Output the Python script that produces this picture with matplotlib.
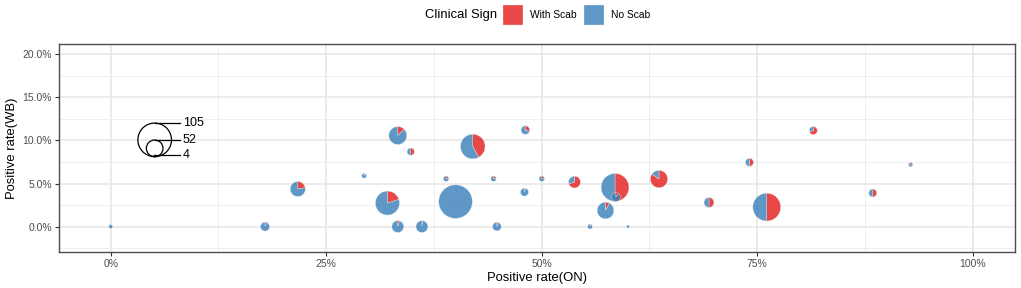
import matplotlib
matplotlib.use("Agg")
import matplotlib.pyplot as plt
from matplotlib.patches import Wedge, Circle, Rectangle
from matplotlib.ticker import FixedLocator, FuncFormatter

plt.rcParams['font.family'] = ['Liberation Sans', 'DejaVu Sans']

# ---- data (percent units) ----
pos_on = [0.0, 17.9, 21.7, 29.4, 32.1, 33.3, 33.3, 34.8, 36.1, 38.9,
          40.0, 42.0, 44.4, 44.8, 48.0, 48.1, 50.0, 53.8, 55.6, 57.4,
          58.5, 58.6, 60.0, 63.6, 69.4, 74.1, 76.1, 81.5, 88.4, 92.8]
pos_wb = [0.0, 0.0, 4.36, 5.9, 2.73, 10.57, 0.0, 8.7, 0.0, 5.56,
          2.9, 9.3, 5.56, 0.0, 4.0, 11.2, 5.56, 5.17, 0.0, 1.87,
          4.55, 3.43, 0.0, 5.52, 2.8, 7.46, 2.26, 11.15, 3.9, 7.19]
n_total = [12, 28, 47, 15, 75, 56, 37, 23, 37, 17,
           105, 77, 17, 27, 25, 27, 17, 37, 15, 52,
           87, 28, 9, 54, 31, 25, 87, 25, 25, 13]
frac_scab = [0.0, 0.05, 0.22, 0.1, 0.2, 0.13, 0.05, 0.5, 0.02, 0.25,
             0.0, 0.42, 0.25, 0.05, 0.05, 0.3, 0.25, 0.7, 0.1, 0.08,
             0.5, 0.1, 0.0, 0.85, 0.5, 0.5, 0.5, 0.7, 0.5, 0.3]
groups = ['With Scab', 'No Scab']
legend_sizes = [105, 52, 4]
x_ticks = [0, 25, 50, 75, 100]
y_ticks = [0, 5, 10, 15, 20]

# ---- style ----
colors = {'With Scab': '#E41A1C', 'No Scab': '#377EB8'}
alpha = 0.8
r_scale = 1.95 / 105.0   # percent units per count

W, H = 1021, 288
fig = plt.figure(figsize=(W / 100, H / 100), dpi=100)
ax = fig.add_axes([59 / W, 1 - 252 / H, (1015 - 59) / W, (252 - 44) / H])
ax.set_xlim(-6.0, 104.9)
ax.set_ylim(-2.95, 21.2)

# grid
ax.xaxis.set_major_locator(FixedLocator(x_ticks))
ax.yaxis.set_major_locator(FixedLocator(y_ticks))
ax.xaxis.set_minor_locator(FixedLocator([12.5, 37.5, 62.5, 87.5]))
ax.yaxis.set_minor_locator(FixedLocator([-2.5, 2.5, 7.5, 12.5, 17.5]))
ax.grid(which='major', color='#E8E8E8', lw=1.2, zorder=0)
ax.grid(which='minor', color='#EBEBEB', lw=0.6, zorder=0)
ax.set_axisbelow(True)
ax.tick_params(which='minor', length=0)
ax.tick_params(which='major', length=3, width=0.8, color='#333333',
               labelsize=7.5, labelcolor='#4D4D4D', pad=2)
ax.xaxis.set_major_formatter(FuncFormatter(lambda v, p: f"{v:.0f}%"))
ax.yaxis.set_major_formatter(FuncFormatter(lambda v, p: f"{v:.1f}%"))
for s in ax.spines.values():
    s.set_color('#4D4D4D')
    s.set_linewidth(1.0)

ax.set_xlabel('Positive rate(ON)', fontsize=9.4, labelpad=2)
ax.set_ylabel('Positive rate(WB)', fontsize=9.4, labelpad=3)

# pies
for x, y, n, f in zip(pos_on, pos_wb, n_total, frac_scab):
    r = n * r_scale
    start = 90.0
    fr = [f, 1 - f]
    for g, part in zip(groups, fr):
        if part <= 0:
            continue
        end = start - 360.0 * part
        w = Wedge((x, y), r, end, start, facecolor=colors[g], alpha=alpha,
                  edgecolor='#f0f0f0', lw=0.3, zorder=3)
        ax.add_patch(w)
        start = end

# size legend
lx, lbottom = 5.1, 8.12
line_end, text_x = 8.0, 8.35
for s in legend_sizes:
    r = s * r_scale
    ax.add_patch(Circle((lx, lbottom + r), r, fill=False, edgecolor='black',
                        lw=0.9, zorder=4))
    ytop = lbottom + 2 * r
    ax.plot([lx, line_end], [ytop, ytop], color='black', lw=0.9, zorder=4)
    ax.text(text_x, ytop, str(s), fontsize=9, va='center', ha='left',
            color='black', zorder=4)

# top legend
fig.text(425 / W, 1 - 15 / H, 'Clinical Sign', fontsize=9.4, va='center', ha='left')
key_x = [503, 584]
lab_x = [530, 611]
for g, kx, tx in zip(groups, key_x, lab_x):
    fig.patches.append(Rectangle((kx / W, 1 - 25 / H), 20 / W, 20 / H,
                                 transform=fig.transFigure,
                                 facecolor=colors[g], alpha=alpha,
                                 edgecolor='#f0f0f0', lw=0.3))
    fig.text(tx / W, 1 - 15 / H, g, fontsize=7.4, va='center', ha='left')

fig.savefig('out.png', dpi=100)
